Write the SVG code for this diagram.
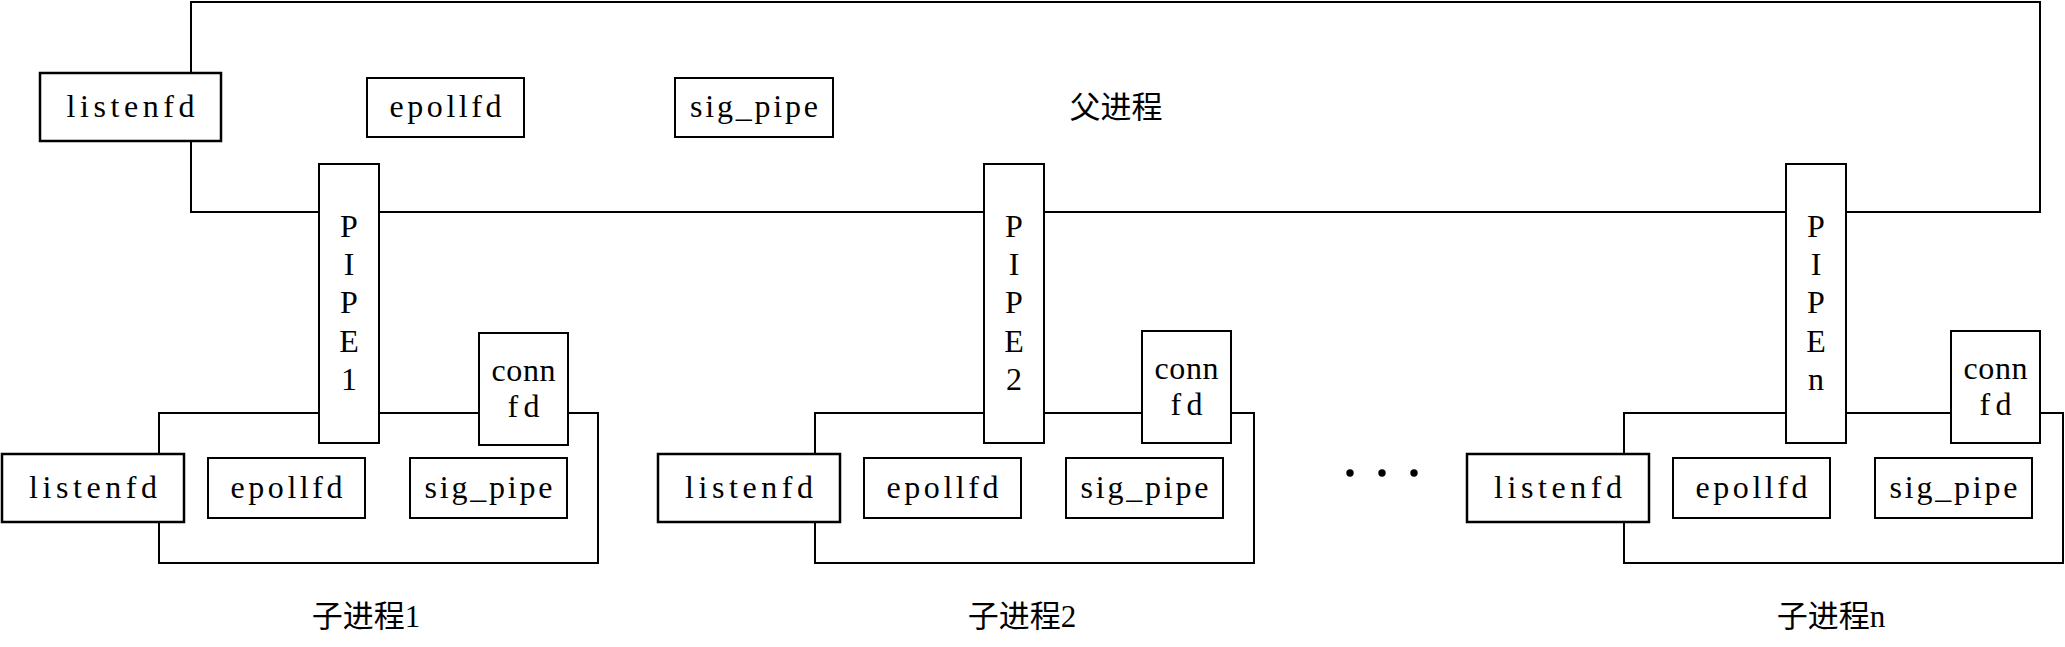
<svg xmlns="http://www.w3.org/2000/svg" width="2065" height="647" viewBox="0 0 2065 647">
  <style>
    .frame { fill: none; stroke: #000; stroke-width: 2; }
    .box { fill: #fff; stroke: #000; stroke-width: 2; }
    .lbox { fill: #fff; stroke: #000; stroke-width: 2.5; }
    .t { font-family: "Liberation Serif", "Noto Sans CJK SC", serif; font-size: 32px; fill: #000; text-anchor: middle; }
    .cn { font-family: "Liberation Serif", "Noto Sans CJK SC", serif; font-size: 31px; fill: #000; text-anchor: middle; }
  </style>
  <rect width="2065" height="647" fill="#fff"/>

  <!-- connectors / process outlines -->
  <g id="connectors">
    <rect class="frame" x="191" y="2" width="1849" height="210"/>
    <rect class="frame" x="159" y="413" width="439" height="150"/>
    <rect class="frame" x="815" y="413" width="439" height="150"/>
    <rect class="frame" x="1624" y="413" width="439" height="150"/>
  </g>

  <!-- parent process -->
  <g id="parent">
    <g id="parent-listenfd">
      <rect class="lbox" x="40" y="73" width="181" height="68"/>
      <text class="t" x="130.5" y="117" textLength="128">listenfd</text>
    </g>
    <g id="parent-epollfd">
      <rect class="box" x="367" y="78" width="157" height="59"/>
      <text class="t" x="445.5" y="117" textLength="112">epollfd</text>
    </g>
    <g id="parent-sig_pipe">
      <rect class="box" x="675" y="78" width="158" height="59"/>
      <text class="t" x="754" y="117" textLength="128">sig_pipe</text>
    </g>
    <g id="parent-label">
      <text class="cn" x="1116" y="118">父进程</text>
    </g>
  </g>

  <!-- pipes -->
  <g id="pipe1">
    <rect class="box" x="319" y="164" width="60" height="279"/>
    <text class="t" x="349" y="237">P</text>
    <text class="t" x="349" y="275">I</text>
    <text class="t" x="349" y="313">P</text>
    <text class="t" x="349" y="352">E</text>
    <text class="t" x="349" y="390">1</text>
  </g>
  <g id="pipe2">
    <rect class="box" x="984" y="164" width="60" height="279"/>
    <text class="t" x="1014" y="237">P</text>
    <text class="t" x="1014" y="275">I</text>
    <text class="t" x="1014" y="313">P</text>
    <text class="t" x="1014" y="352">E</text>
    <text class="t" x="1014" y="390">2</text>
  </g>
  <g id="pipen">
    <rect class="box" x="1786" y="164" width="60" height="279"/>
    <text class="t" x="1816" y="237">P</text>
    <text class="t" x="1816" y="275">I</text>
    <text class="t" x="1816" y="313">P</text>
    <text class="t" x="1816" y="352">E</text>
    <text class="t" x="1816" y="390">n</text>
  </g>

  <!-- child 1 -->
  <g id="child1">
    <g id="child1-connfd">
      <rect class="box" x="479" y="333" width="89" height="112"/>
      <text class="t" x="523.5" y="381" textLength="64">conn</text>
      <text class="t" x="523.5" y="417" textLength="32">fd</text>
    </g>
    <g id="child1-listenfd">
      <rect class="lbox" x="2" y="454" width="182" height="68"/>
      <text class="t" x="93" y="498" textLength="128">listenfd</text>
    </g>
    <g id="child1-epollfd">
      <rect class="box" x="208" y="458" width="157" height="60"/>
      <text class="t" x="286.5" y="498" textLength="112">epollfd</text>
    </g>
    <g id="child1-sig_pipe">
      <rect class="box" x="410" y="458" width="157" height="60"/>
      <text class="t" x="488.5" y="498" textLength="128">sig_pipe</text>
    </g>
    <text class="cn" x="366" y="627">子进程1</text>
  </g>

  <!-- child 2 -->
  <g id="child2">
    <g id="child2-connfd">
      <rect class="box" x="1142" y="331" width="89" height="112"/>
      <text class="t" x="1186.5" y="379" textLength="64">conn</text>
      <text class="t" x="1186.5" y="415" textLength="32">fd</text>
    </g>
    <g id="child2-listenfd">
      <rect class="lbox" x="658" y="454" width="182" height="68"/>
      <text class="t" x="749" y="498" textLength="128">listenfd</text>
    </g>
    <g id="child2-epollfd">
      <rect class="box" x="864" y="458" width="157" height="60"/>
      <text class="t" x="942.5" y="498" textLength="112">epollfd</text>
    </g>
    <g id="child2-sig_pipe">
      <rect class="box" x="1066" y="458" width="157" height="60"/>
      <text class="t" x="1144.5" y="498" textLength="128">sig_pipe</text>
    </g>
    <text class="cn" x="1022" y="627">子进程2</text>
  </g>

  <!-- ellipsis -->
  <g id="ellipsis" fill="#000">
    <circle cx="1350" cy="473" r="3.7"/>
    <circle cx="1382" cy="473" r="3.7"/>
    <circle cx="1414" cy="473" r="3.7"/>
  </g>

  <!-- child n -->
  <g id="childn">
    <g id="childn-connfd">
      <rect class="box" x="1951" y="331" width="89" height="112"/>
      <text class="t" x="1995.5" y="379" textLength="64">conn</text>
      <text class="t" x="1995.5" y="415" textLength="32">fd</text>
    </g>
    <g id="childn-listenfd">
      <rect class="lbox" x="1467" y="454" width="182" height="68"/>
      <text class="t" x="1558" y="498" textLength="128">listenfd</text>
    </g>
    <g id="childn-epollfd">
      <rect class="box" x="1673" y="458" width="157" height="60"/>
      <text class="t" x="1751.5" y="498" textLength="112">epollfd</text>
    </g>
    <g id="childn-sig_pipe">
      <rect class="box" x="1875" y="458" width="157" height="60"/>
      <text class="t" x="1953.5" y="498" textLength="128">sig_pipe</text>
    </g>
    <text class="cn" x="1831" y="627">子进程n</text>
  </g>
</svg>
